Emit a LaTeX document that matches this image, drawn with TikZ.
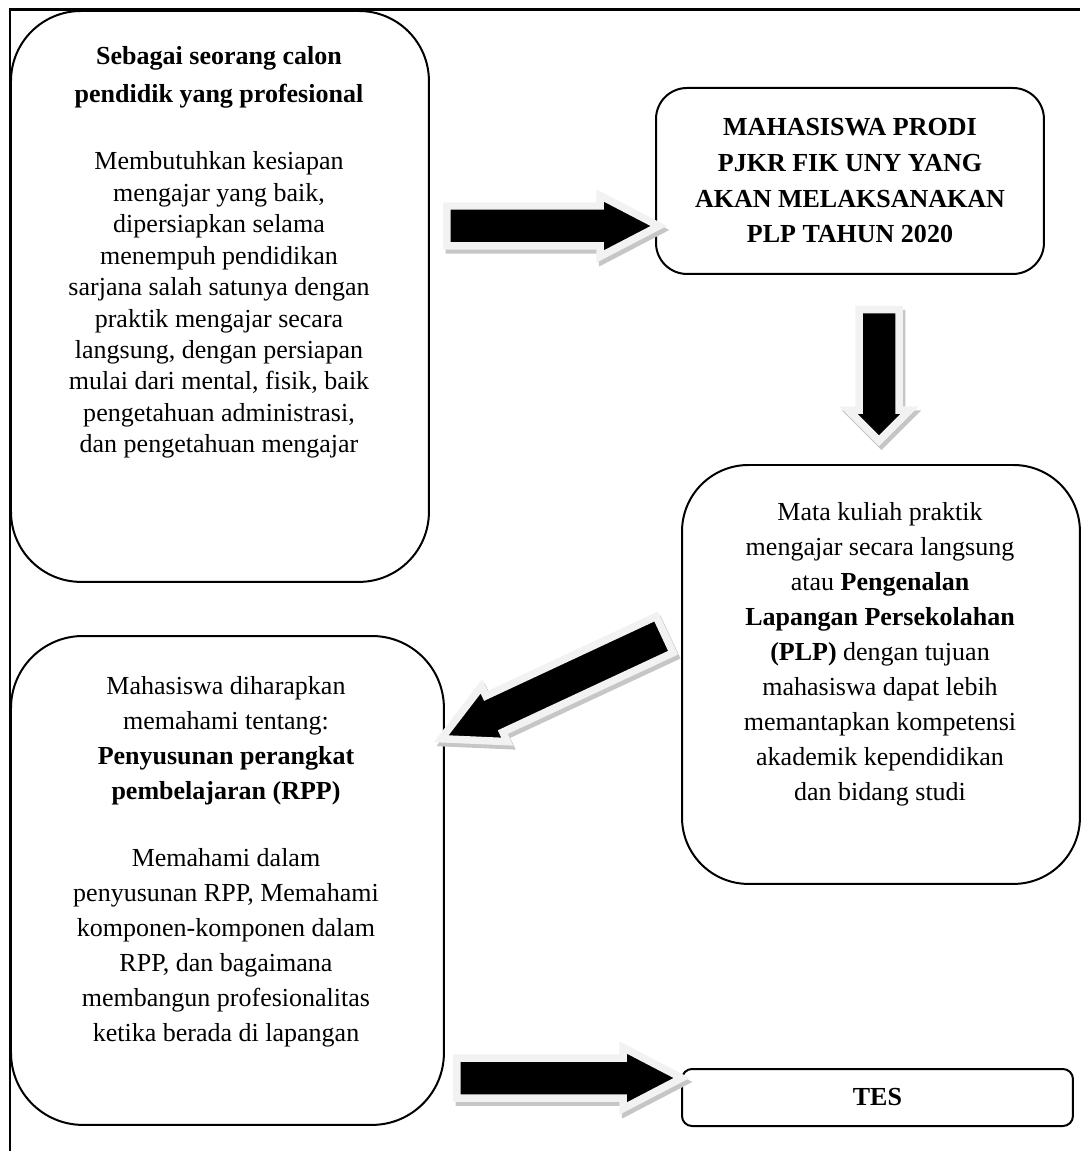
\documentclass[tikz,border=0pt]{standalone}
\usepackage{fontspec}
\setmainfont{Liberation Serif}
\usetikzlibrary{shapes.arrows}
\usetikzlibrary{shadows}

\tikzset{
    box/.style={draw, line width=0.04cm, inner sep=0pt, anchor=north west},
    boxtext/.style={anchor=north, inner sep=0pt, align=center, font=\fontsize{14.8}{19.9}\selectfont},
    blok/.style={single arrow, anchor=tail, fill=black, draw=gray!10, line width=0.15cm,
        inner xsep=0pt, inner ysep=0.325cm, single arrow head extend=0.21cm,
        single arrow tip angle=55,
        drop shadow={shadow xshift=0.05cm, shadow yshift=-0.08cm, opacity=1, fill=gray!45, draw=gray!45}}
}

\begin{document}
\begin{tikzpicture}[x=0.02cm, y=-0.02cm]
        \useasboundingbox (0,0) rectangle (1080,1151);

        \coordinate (A) at (10,10);
        \coordinate (B) at (655,87);
        \coordinate (C) at (681,464);
        \coordinate (D) at (10,635);
        \coordinate (E) at (681,1068);

        % frame
        \draw[line width=0.06cm] (10,1151) |- (1080,10);

        \node[box, minimum width=8.36cm, minimum height=11.42cm, rounded corners=1.4cm] (calon) at (A) {};
        \node[box, minimum width=7.76cm, minimum height=3.72cm, rounded corners=0.62cm,
            align=center, font=\fontsize{14.8}{20.3}\selectfont\bfseries] (mhs) at (B)
            {MAHASISWA PRODI\\ PJKR FIK UNY YANG\\ AKAN MELAKSANAKAN\\ PLP TAHUN 2020};
        \node[box, minimum width=7.96cm, minimum height=8.38cm, rounded corners=1.33cm] (plp) at (C) {};
        \node[box, minimum width=8.66cm, minimum height=9.78cm, rounded corners=1.44cm] (rpp) at (D) {};
        \node[box, minimum width=7.82cm, minimum height=1.14cm, rounded corners=0.2cm,
            font=\fontsize{14.8}{19.9}\selectfont\bfseries] (tes) at (E) {TES};

        \node[boxtext, font=\fontsize{14.8}{17.9}\selectfont] (calontext) at (219,46)
            {\textbf{Sebagai seorang calon}\\[0.14cm] \textbf{pendidik yang profesional}\\[0.71cm]
            Membutuhkan kesiapan\\ mengajar yang baik,\\ dipersiapkan selama\\ menempuh pendidikan\\
            sarjana salah satunya dengan\\ praktik mengajar secara\\ langsung, dengan persiapan\\
            mulai dari mental, fisik, baik\\ pengetahuan administrasi,\\ dan pengetahuan mengajar};
        \node[boxtext] (plptext) at (880,502)
            {Mata kuliah praktik\\ mengajar secara langsung\\ atau \textbf{Pengenalan}\\
            \textbf{Lapangan Persekolahan}\\ \textbf{(PLP)} dengan tujuan\\ mahasiswa dapat lebih\\
            memantapkan kompetensi\\ akademik kependidikan\\ dan bidang studi};
        \node[boxtext] (rpptext) at (226,676)
            {Mahasiswa diharapkan\\ memahami tentang:\\ \textbf{Penyusunan perangkat}\\
            \textbf{pembelajaran (RPP)}\\[0.64cm]
            Memahami dalam\\ penyusunan RPP, Memahami\\ komponen-komponen dalam\\
            RPP, dan bagaimana\\ membangun profesionalitas\\ ketika berada di lapangan};

        % block arrows, placed by their tails
        \node[blok, minimum height=4.24cm] (ab) at (443,226) {};
        \node[blok, minimum height=2.62cm, single arrow tip angle=90, rotate=270] (bc) at (879,306) {};
        \node[blok, minimum height=4.93cm, rotate=205] (cd) at (668,633) {};
        \node[blok, minimum height=4.5cm] (de) at (453,1078) {};
    \end{tikzpicture}
\end{document}
